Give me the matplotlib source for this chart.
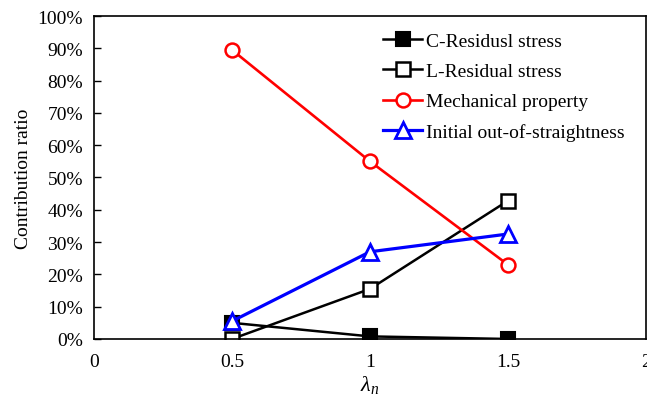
import matplotlib
matplotlib.use("Agg")
from matplotlib import pyplot as plt
from matplotlib.ticker import FuncFormatter

lam = [0.5, 1.0, 1.5]
c_residual = [5.0, 0.8, 0.0]
l_residual = [0.0, 15.5, 42.8]
mechanical = [89.5, 55.0, 23.0]
initial_oos = [5.5, 27.0, 32.5]

labels = ["C-Residusl stress", "L-Residual stress",
          "Mechanical property", "Initial out-of-straightness"]

plt.rcParams["font.family"] = ["Liberation Serif", "DejaVu Serif"]
plt.rcParams["mathtext.fontset"] = "custom"
plt.rcParams["mathtext.rm"] = "Liberation Serif"
plt.rcParams["mathtext.it"] = "Liberation Serif:italic"

fig = plt.figure(figsize=(6.47, 4.06), dpi=100)
ax = fig.add_axes([0.1453, 0.1626, 0.853, 0.7955])

ax.plot(lam, c_residual, color="black", lw=1.8, marker="s", ms=10,
        mfc="black", mec="black", mew=1.5, label=labels[0])
ax.plot(lam, l_residual, color="black", lw=1.8, marker="s", ms=10,
        mfc="white", mec="black", mew=1.8, label=labels[1])
ax.plot(lam, mechanical, color="red", lw=1.9, marker="o", ms=10,
        mfc="white", mec="red", mew=1.8, label=labels[2])
ax.plot(lam, initial_oos, color="blue", lw=2.3, marker="^", ms=11,
        mfc="white", mec="blue", mew=2.0, label=labels[3])

ax.set_xlim(0, 2)
ax.set_ylim(0, 100)
ax.set_xticks([0, 0.5, 1, 1.5, 2])
ax.set_xticklabels(["0", "0.5", "1", "1.5", "2"])
ax.set_yticks(range(0, 101, 10))
ax.yaxis.set_major_formatter(FuncFormatter(lambda v, p: "%d%%" % v))
ax.tick_params(axis="y", direction="in", length=5, width=1, labelsize=14, pad=8)
ax.tick_params(axis="x", length=0, labelsize=14, pad=10)
for s in ax.spines.values():
    s.set_linewidth(1.2)

ax.set_ylabel("Contribution ratio", fontsize=14, labelpad=4)
ax.set_xlabel(r"$\lambda_n$", fontsize=16, labelpad=2)

ax.legend(loc="upper right", frameon=False, fontsize=14, handlelength=2.0,
          handletextpad=0.2, labelspacing=0.65, bbox_to_anchor=(0.988, 0.995),
          borderaxespad=0.35)

fig.savefig("out.png", dpi=100)
